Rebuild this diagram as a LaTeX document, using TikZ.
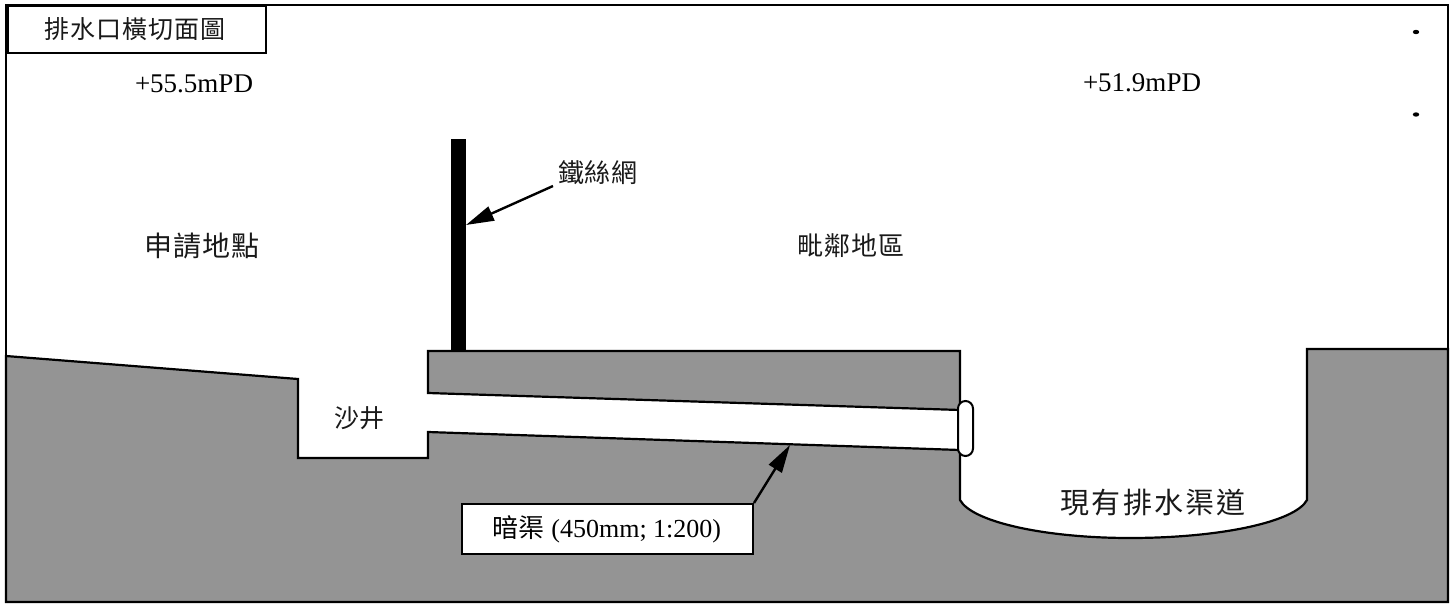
\documentclass[tikz,border=0pt]{standalone}
\usepackage{fontspec}
\setmainfont{Liberation Serif}
\newfontfamily\cjk{Noto Sans CJK TC}
\usetikzlibrary{arrows.meta}
\definecolor{ground}{gray}{0.58}
\tikzset{
 x=1pt,y=-1pt,
 edge/.style={line width=2.2pt,line join=miter},
 soil/.style={fill=ground,draw=black,edge},
 lab/.style={font=\cjk,inner sep=0pt,text=black!90},
 lev/.style={font=\fontsize{27}{30}\selectfont,inner sep=0pt},
 box/.style={draw=black,fill=white,line width=2.4pt,inner sep=0pt,anchor=north west},
 pointer/.style={line width=2.4pt,-{Triangle[length=28pt,width=15pt]}},
}
\newcommand{\lsize}[1]{\fontsize{#1}{#1}\selectfont}
\newcommand{\spaced}[1]{\addfontfeature{LetterSpace=#1}}
\begin{document}
\begin{tikzpicture}
\useasboundingbox (0,0) rectangle (1455,607);
\fill[white] (0,0) rectangle (1455,607);
% ground
\path[soil] (6,356) -- (298,379) -- (298,458) -- (428,458) -- (428,432) -- (960,450)
  -- (960,500) .. controls (972,522) and (1045,538) .. (1130,538)
  .. controls (1220,538) and (1295,522) .. (1307,500)
  -- (1307,349) -- (1448,349) -- (1448,602) -- (6,602) -- cycle;
% raised slab
\path[soil] (428,351) -- (960,351) -- (960,410) -- (428,393) -- cycle;
% pipe collar
\draw[fill=white,line width=2pt,rounded corners=7.5pt] (958,401) rectangle (973,456);
% fence
\node[fill=black,minimum width=15pt,minimum height=212pt,inner sep=0pt,anchor=north] (fence) at (458,139) {};
% frame
\draw[line width=2.4pt] (6,5) rectangle (1448,602);
% title
\node[box,minimum width=258pt,minimum height=47pt] (title) at (7,5) {};
\node[lab] (titletext) at (135,29) {\lsize{25}\spaced{4}排水口橫切面圖};
\node[lev] (lev1) at (194,84) {+55.5mPD};
\node[lev] (lev2) at (1142,83) {+51.9mPD};
\node[lab] (site) at (202,246) {\lsize{28}\spaced{3}申請地點};
\node[lab] (near) at (851,246) {\lsize{26}\spaced{4}毗鄰地區};
\node[lab] (wire) at (598,173) {\lsize{26}\spaced{2}鐵絲網};
\node[lab] (pit) at (359,418) {\lsize{25}沙井};
\node[lab] (chan) at (1153,503) {\lsize{29}\spaced{7}現有排水渠道};
\coordinate (wirestart) at (553,186);
\coordinate (wiretip) at (466,225);
\draw[pointer] (wirestart) -- (wiretip);
% culvert label
\node[box,minimum width=291pt,minimum height=50pt] (culv) at (461,503) {};
\node[inner sep=0pt,font=\fontsize{26}{28}\selectfont] (culvtext) at (607,529) {{\cjk 暗渠} (450mm; 1:200)};
\coordinate (culvtip) at (790,445);
\draw[pointer] (754,503) coordinate (culvstart) -- (culvtip);
% specks
\fill (1416,32) ellipse (3.2pt and 2.2pt);
\fill (1416,114.5) ellipse (3.2pt and 2.2pt);
\end{tikzpicture}
\end{document}
